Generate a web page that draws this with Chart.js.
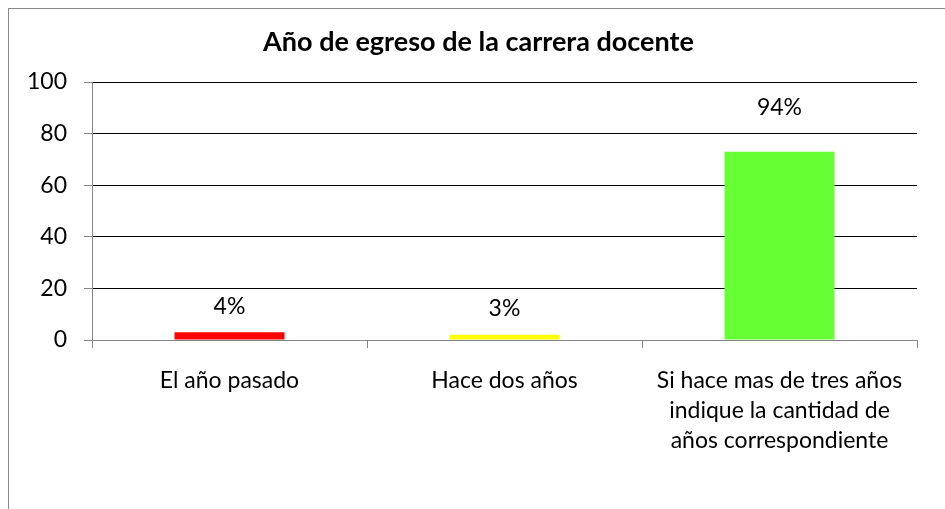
<!DOCTYPE html>
<html>
<head>
<meta charset="utf-8">
<script src="https://cdn.jsdelivr.net/npm/chart.js@4/dist/chart.umd.min.js"></script>
<style>
  html, body { margin: 0; padding: 0; background: #fff; overflow: hidden; }
  #wrap { position: absolute; left: 0; top: 0; width: 945px; height: 509px; }
  #frame { position: absolute; left: 8px; top: 8px; width: 960px; height: 520px;
           border-left: 1px solid #888; border-top: 1px solid #888; pointer-events: none; }
</style>
</head>
<body>
<div id="wrap"><canvas id="c" width="945" height="509"></canvas></div>
<div id="frame"></div>
<script>
const titleText = 'Año de egreso de la carrera docente';
const categories = [
  'El año pasado',
  'Hace dos años',
  ['Si hace mas de tres años', 'indique la cantidad de', 'años correspondiente']
];
const counts = [3, 2, 73];
const percentLabels = ['4%', '3%', '94%'];
const barColors = ['#ff0000', '#ffff00', '#66ff33'];
const yTicks = [0, 20, 40, 60, 80, 100];
const labelLift = [26, 26, 44];

const FONT = 'Lato, "Open Sans", sans-serif';

const valueLabels = {
  id: 'valueLabels',
  afterDatasetsDraw(chart) {
    const ctx = chart.ctx;
    const meta = chart.getDatasetMeta(0);
    ctx.save();
    ctx.font = '23px ' + FONT;
    ctx.fillStyle = '#000';
    ctx.textAlign = 'center';
    ctx.textBaseline = 'middle';
    meta.data.forEach((bar, i) => {
      ctx.fillText(percentLabels[i], bar.x, bar.y - labelLift[i]);
    });
    ctx.restore();
  }
};

const chartTitle = {
  id: 'chartTitle',
  afterDraw(chart) {
    const ctx = chart.ctx;
    ctx.save();
    ctx.font = 'bold 27px ' + FONT;
    ctx.fillStyle = '#000';
    ctx.textAlign = 'center';
    ctx.textBaseline = 'alphabetic';
    ctx.fillText(titleText, chart.width / 2 + 6, 51);
    ctx.restore();
  }
};

new Chart(document.getElementById('c'), {
  type: 'bar',
  data: {
    labels: categories,
    datasets: [{
      data: counts,
      backgroundColor: barColors,
      borderWidth: 0,
      categoryPercentage: 1.0,
      barPercentage: 0.4
    }]
  },
  options: {
    responsive: false,
    animation: false,
    devicePixelRatio: 1,
    layout: { padding: { left: 0, right: 28, top: 82, bottom: 0 } },
    plugins: {
      legend: { display: false },
      tooltip: { enabled: false },
      title: { display: false }
    },
    scales: {
      x: {
        offset: true,
        grid: { display: true, drawOnChartArea: false, drawTicks: true, tickLength: 8, color: '#868686', offset: true },
        border: { color: '#868686', width: 1 },
        ticks: { color: '#000', font: { family: FONT, size: 23, lineHeight: 1.3 }, padding: 18, maxRotation: 0, autoSkip: false },
        afterFit(s) { s.height = 169; }
      },
      y: {
        min: 0, max: 100,
        afterBuildTicks(s) { s.ticks = yTicks.map(v => ({ value: v })); },
        grid: { color: '#000', lineWidth: 1, drawTicks: true, tickLength: 8, tickColor: '#868686' },
        border: { color: '#868686', width: 1 },
        ticks: { color: '#000', font: { family: FONT, size: 23 }, padding: 17 },
        afterFit(s) { s.width = 92; }
      }
    }
  },
  plugins: [valueLabels, chartTitle]
});
</script>
</body>
</html>
